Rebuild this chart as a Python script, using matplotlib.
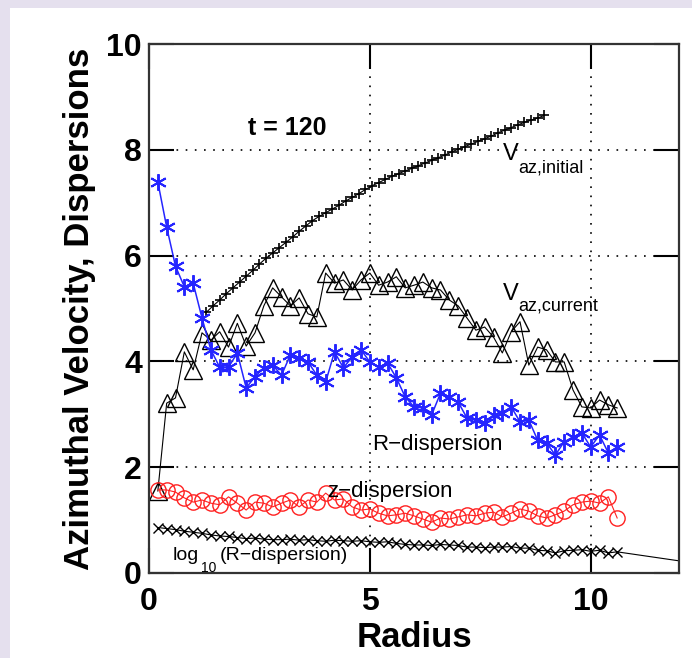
import numpy as np
import matplotlib
matplotlib.use('Agg')
import matplotlib.pyplot as plt
from matplotlib.patches import Rectangle

plt.rcParams['font.family'] = ['Liberation Sans', 'DejaVu Sans']

# radius grid of the dispersion / current-velocity profiles
radius = [0.2, 0.4, 0.6, 0.8, 1.0, 1.2, 1.4, 1.6, 1.8, 2.0,
          2.2, 2.4, 2.6, 2.8, 3.0, 3.2, 3.4, 3.6, 3.8, 4.0,
          4.2, 4.4, 4.6, 4.8, 5.0, 5.2, 5.4, 5.6, 5.8, 6.0,
          6.2, 6.4, 6.6, 6.8, 7.0, 7.2, 7.4, 7.6, 7.8, 8.0,
          8.2, 8.4, 8.6, 8.8, 9.0, 9.2, 9.4, 9.6, 9.8, 10.0,
          10.2, 10.4, 10.6]

v_current = [1.55, 3.21, 3.31, 4.18, 3.84, 4.54, 4.40, 4.56, 4.27, 4.72,
             4.29, 4.54, 5.05, 5.39, 5.22, 5.05, 5.20, 4.90, 4.84, 5.67,
             5.48, 5.54, 5.35, 5.54, 5.67, 5.44, 5.50, 5.60, 5.39, 5.44,
             5.50, 5.39, 5.35, 5.16, 5.05, 4.82, 4.59, 4.65, 4.46, 4.16,
             4.56, 4.75, 3.93, 4.27, 4.22, 3.99, 3.99, 3.46, 3.14, 3.12,
             3.27, 3.18, 3.12]

r_disp = [7.39, 6.54, 5.80, 5.41, 5.48, 4.82, 4.22, 3.89, 3.89, 4.16,
          3.50, 3.71, 3.88, 3.93, 3.74, 4.12, 4.06, 3.99, 3.74, 3.61,
          4.18, 3.88, 4.08, 4.22, 3.99, 3.89, 3.97, 3.69, 3.33, 3.14,
          3.12, 2.99, 3.40, 3.33, 3.23, 2.93, 2.89, 2.84, 2.99, 3.02,
          3.14, 2.86, 2.89, 2.51, 2.46, 2.23, 2.48, 2.57, 2.65, 2.38,
          2.61, 2.27, 2.38]

z_disp = [1.57, 1.57, 1.53, 1.42, 1.34, 1.38, 1.32, 1.29, 1.44, 1.32,
          1.19, 1.34, 1.32, 1.25, 1.32, 1.38, 1.25, 1.38, 1.34, 1.51,
          1.38, 1.40, 1.25, 1.19, 1.21, 1.13, 1.08, 1.10, 1.13, 1.08,
          1.02, 0.96, 1.04, 1.02, 1.06, 1.10, 1.08, 1.13, 1.15, 1.06,
          1.13, 1.21, 1.17, 1.08, 1.04, 1.10, 1.17, 1.29, 1.34, 1.36,
          1.32, 1.44, 1.04]

log_r_disp = [0.86, 0.84, 0.82, 0.79, 0.77, 0.75, 0.72, 0.70, 0.69, 0.67,
              0.65, 0.66, 0.64, 0.63, 0.63, 0.64, 0.62, 0.63, 0.61, 0.60,
              0.62, 0.61, 0.60, 0.61, 0.59, 0.58, 0.59, 0.56, 0.54, 0.53,
              0.53, 0.52, 0.54, 0.53, 0.52, 0.49, 0.49, 0.48, 0.49, 0.49,
              0.50, 0.47, 0.47, 0.43, 0.42, 0.38, 0.42, 0.43, 0.44, 0.41,
              0.43, 0.38, 0.40]

# tail of the log curve past the last sampled bin
log_tail_r = [10.6, 12.0]
log_tail = [0.40, 0.23]

# initial rotation curve (finer grid)
r_init = [1.30, 1.45, 1.60, 1.75, 1.90, 2.05, 2.20, 2.35, 2.50, 2.65,
          2.80, 2.95, 3.10, 3.25, 3.40, 3.55, 3.70, 3.85, 4.00, 4.15,
          4.30, 4.45, 4.60, 4.75, 4.90, 5.05, 5.20, 5.35, 5.50, 5.65,
          5.80, 5.95, 6.10, 6.25, 6.40, 6.55, 6.70, 6.85, 7.00, 7.15,
          7.30, 7.45, 7.60, 7.75, 7.90, 8.05, 8.20, 8.35, 8.50, 8.65,
          8.80, 8.95]
v_init = [4.93, 5.05, 5.16, 5.28, 5.39, 5.50, 5.61, 5.72, 5.84, 5.95,
          6.05, 6.15, 6.25, 6.35, 6.46, 6.56, 6.66, 6.74, 6.81, 6.88,
          6.95, 7.03, 7.10, 7.17, 7.25, 7.32, 7.38, 7.44, 7.50, 7.55,
          7.60, 7.65, 7.70, 7.75, 7.80, 7.85, 7.90, 7.96, 8.01, 8.06,
          8.11, 8.16, 8.21, 8.26, 8.32, 8.37, 8.42, 8.47, 8.52, 8.56,
          8.60, 8.65]

xticks = [0, 5, 10]
yticks = [0, 2, 4, 6, 8, 10]

fig = plt.figure(figsize=(6.92, 6.58), dpi=100, facecolor='#e5e0ee')
fig.add_artist(Rectangle((10 / 692, 0), 1, 1 - 8 / 658, transform=fig.transFigure,
                         facecolor='white', edgecolor='none', zorder=0))

ax = fig.add_axes([149 / 692, 1 - 573 / 658, 530 / 692, 529 / 658])
ax.set_facecolor('white')

ax.plot(r_init, v_init, color='k', lw=0.8, marker='+', ms=7.5, mew=1.2)
ax.plot(radius, v_current, color='k', lw=0.8, marker='^', ms=13, mfc='none', mew=1.0)
ax.plot(radius, r_disp, color='#2525ff', lw=1.1, marker=(6, 2, 0), ms=12, mew=1.4)
ax.plot(radius, z_disp, color='#ff2020', lw=0.8, marker='o', ms=11, mfc='none', mew=1.0)
ax.plot(radius, log_r_disp, color='k', lw=0.8, marker='x', ms=7, mew=1.0)
ax.plot(log_tail_r, log_tail, color='k', lw=0.8)

ax.set_xlim(0, 12)
ax.set_ylim(0, 10)
ax.set_xticks(xticks)
ax.set_yticks(yticks)
ax.grid(True, color='k', lw=1.2, linestyle=(0, (1, 4.5)))
ax.set_axisbelow(True)

ax.tick_params(direction='in', length=18, width=1.5, top=True, right=True,
               labelsize=23, colors='k')
ax.tick_params(axis='x', pad=10)
ax.tick_params(axis='y', pad=5)
for lab in ax.get_xticklabels() + ax.get_yticklabels():
    lab.set_fontweight('bold')
for s in ax.spines.values():
    s.set_linewidth(1.6)
    s.set_color('#333333')

ax.set_xlabel('Radius', fontsize=25, fontweight='bold')
ax.set_ylabel('Azimuthal Velocity, Dispersions', fontsize=25, fontweight='bold')
ax.xaxis.set_label_coords(0.5, -0.09)
ax.yaxis.set_label_coords(-0.10, 0.5)

ax.text(2.24, 8.28, 't = 120', fontsize=18, fontweight='bold')
ax.text(8.01, 7.81, 'V', fontsize=17)
ax.text(8.35, 7.58, 'az,initial', fontsize=13)
ax.text(8.01, 5.16, 'V', fontsize=17)
ax.text(8.35, 4.97, 'az,current', fontsize=13)
ax.text(5.05, 2.33, 'R\u2212dispersion', fontsize=16)
ax.text(4.03, 1.44, 'z\u2212dispersion', fontsize=16)
ax.text(0.54, 0.25, 'log', fontsize=14)
ax.text(1.17, 0.02, '10', fontsize=10)
ax.text(1.60, 0.25, '(R\u2212dispersion)', fontsize=14)

fig.savefig('out.png', dpi=100, facecolor=fig.get_facecolor())
